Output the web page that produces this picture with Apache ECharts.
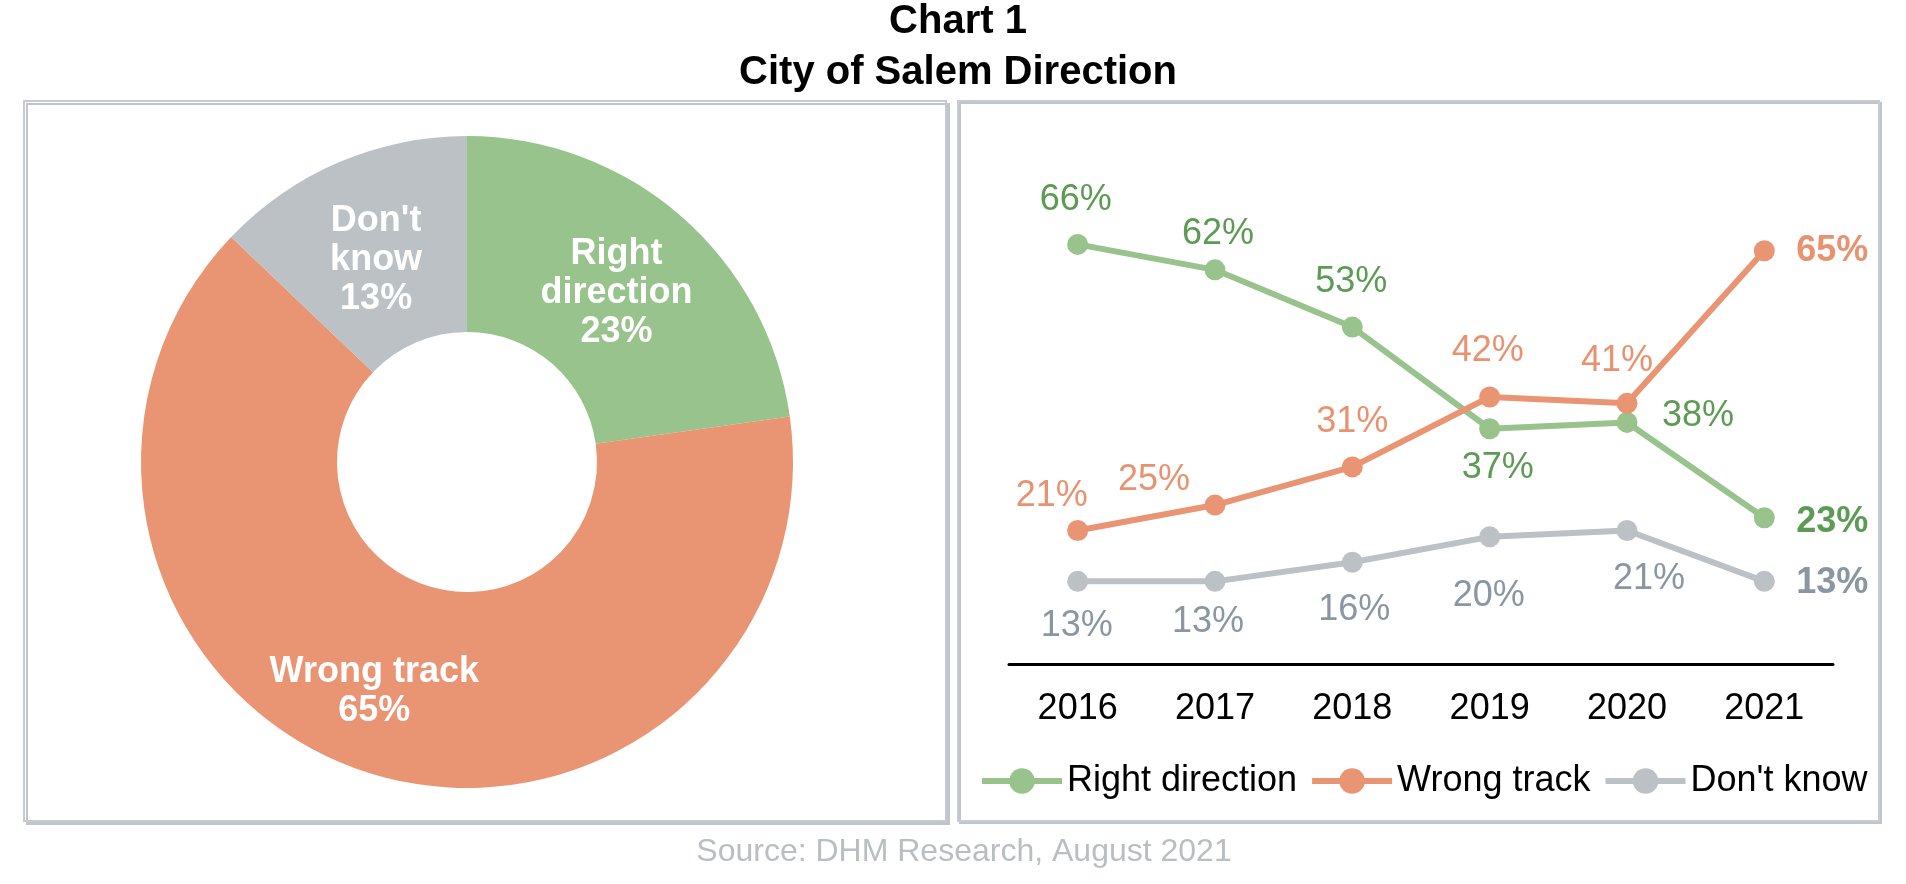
<!DOCTYPE html>
<html>
<head>
<meta charset="utf-8">
<style>
  html, body { margin: 0; padding: 0; background: #ffffff; }
  #chart { width: 1906px; height: 884px; }
</style>
<script src="https://cdn.jsdelivr.net/npm/echarts@6/dist/echarts.min.js"></script>
</head>
<body>
<div id="chart"></div>
<script>
// ---- data ----
const years = ['2016', '2017', '2018', '2019', '2020', '2021'];
const rightDirection = [66, 62, 53, 37, 38, 23];
const wrongTrack = [21, 25, 31, 42, 41, 65];
const dontKnow = [13, 13, 16, 20, 21, 13];
const seriesNames = ['Right direction', 'Wrong track', "Don't know"];
const pieValues = [23, 65, 13];
const titleLines = ['Chart 1', 'City of Salem Direction'];
const sourceText = 'Source: DHM Research, August 2021';

// ---- styling ----
const FONT = "'Liberation Sans', Arial, Helvetica, sans-serif";
const C_GREEN = '#99c38c', C_ORANGE = '#e99573', C_GRAY = '#bcc1c6';
const L_GREEN = '#5c9b53', L_ORANGE = '#e9926f', L_GRAY = '#8a97a2';
const FRAME = '#c6cbd1';

const pieLabelText = {
  'Right direction': 'Right\ndirection',
  'Wrong track': 'Wrong track',
  "Don't know": "Don't\nknow"
};
const pieLabelOffset = [[-2, 5], [-22, 10], [0, 10]];

// label placement nudges (relative to marker centre)
const nudgeRight = [[-2, -44], [3, -36], [-1, -45], [8, 39], [71, -6], [68, 4]];
const nudgeWrong = [[-26, -34], [-61, -25], [0, -45], [-2, -46], [-10, -42], [68, 0]];
const nudgeDont = [[-1, 45], [-7, 41], [2, 48], [-1, 59], [22, 49], [68, 2]];

function buildData(values, nudges) {
  return values.map((v, i) => ({
    value: v,
    label: { offset: nudges[i], fontWeight: i === values.length - 1 ? 'bold' : 'normal' }
  }));
}

function lineSeries(name, values, nudges, color, labelColor) {
  return {
    name: name,
    type: 'line',
    data: buildData(values, nudges),
    symbol: 'circle',
    symbolSize: 21,
    lineStyle: { width: 6, color: color },
    itemStyle: { color: color },
    label: {
      show: true,
      position: 'inside',
      formatter: '{c}%',
      color: labelColor,
      fontSize: 36,
      fontFamily: FONT
    },
    emphasis: { disabled: true },
    z: 3
  };
}

const chart = echarts.init(document.getElementById('chart'), null, { renderer: 'canvas' });

const option = {
  animation: false,
  backgroundColor: '#ffffff',
  textStyle: { fontFamily: FONT },
  graphic: [
    {
      type: 'rect', z: -10,
      shape: { x: 24, y: 101, width: 922, height: 720 },
      style: { fill: '#ffffff', stroke: FRAME, lineWidth: 2,
               shadowColor: '#bfc5cb', shadowOffsetX: 3, shadowOffsetY: 3, shadowBlur: 0 }
    },
    {
      type: 'rect', z: -10,
      shape: { x: 958, y: 101, width: 921, height: 720 },
      style: { fill: '#ffffff', stroke: FRAME, lineWidth: 2,
               shadowColor: '#bfc5cb', shadowOffsetX: 2, shadowOffsetY: 2, shadowBlur: 0 }
    },
    {
      type: 'text', z: 100, x: 958, y: 22,
      style: { text: titleLines[0], font: 'bold 40px ' + FONT, fill: '#000000',
               textAlign: 'center', textVerticalAlign: 'middle' }
    },
    {
      type: 'text', z: 100, x: 958, y: 73,
      style: { text: titleLines[1], font: 'bold 40px ' + FONT, fill: '#000000',
               textAlign: 'center', textVerticalAlign: 'middle' }
    },
    {
      type: 'text', z: 100, x: 964, y: 852,
      style: { text: sourceText, font: '32px ' + FONT, fill: '#b9bec4',
               textAlign: 'center', textVerticalAlign: 'middle' }
    }
  ],
  legend: {
    data: seriesNames,
    left: 974,
    top: 758,
    itemWidth: 80,
    itemHeight: 32,
    itemGap: 12,
    lineStyle: { width: 6 },
    textStyle: { fontSize: 36, color: '#000000', fontFamily: FONT },
    selectedMode: false
  },
  grid: { left: 1009, top: 155.4, width: 824, height: 508.6, containLabel: false },
  xAxis: {
    type: 'category',
    data: years,
    boundaryGap: true,
    axisLine: { show: true, lineStyle: { color: '#000000', width: 3 } },
    axisTick: { show: false },
    axisLabel: { color: '#000000', fontSize: 36, margin: 27, fontFamily: FONT },
    splitLine: { show: false }
  },
  yAxis: {
    type: 'value', min: 0, max: 80, show: false, splitLine: { show: false }
  },
  series: [
    {
      name: 'Direction 2021',
      type: 'pie',
      center: [467, 462],
      radius: [130, 326],
      startAngle: 90,
      clockwise: true,
      avoidLabelOverlap: false,
      legendHoverLink: false,
      emphasis: { disabled: true },
      itemStyle: { borderWidth: 0 },
      label: {
        show: true,
        position: 'inside',
        color: '#ffffff',
        fontWeight: 'bold',
        fontSize: 36,
        lineHeight: 39,
        fontFamily: FONT,
        formatter: p => pieLabelText[p.name] + '\n' + p.value + '%'
      },
      labelLine: { show: false },
      data: seriesNames.map((n, i) => ({
        name: n,
        value: pieValues[i],
        itemStyle: { color: [C_GREEN, C_ORANGE, C_GRAY][i] },
        label: { offset: pieLabelOffset[i] }
      }))
    },
    lineSeries(seriesNames[0], rightDirection, nudgeRight, C_GREEN, L_GREEN),
    lineSeries(seriesNames[1], wrongTrack, nudgeWrong, C_ORANGE, L_ORANGE),
    lineSeries(seriesNames[2], dontKnow, nudgeDont, C_GRAY, L_GRAY)
  ]
};

chart.setOption(option);
</script>
</body>
</html>
